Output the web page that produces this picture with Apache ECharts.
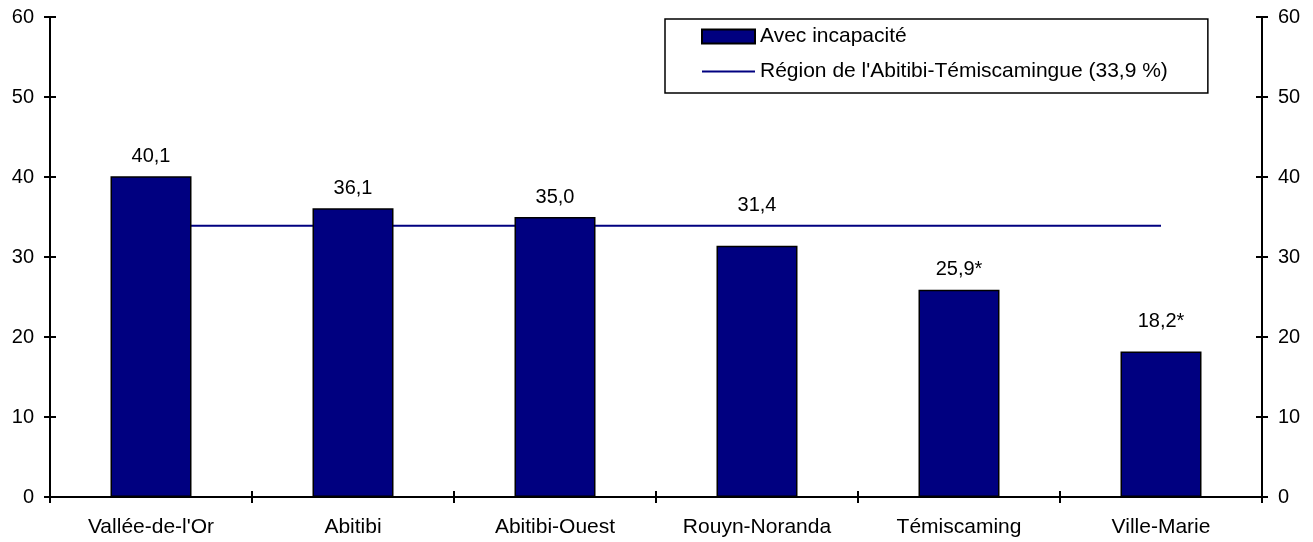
<!DOCTYPE html>
<html lang="fr">
<head>
    <meta charset="UTF-8">
    <title>Avec incapacité</title>
    <style>
        html, body { margin: 0; padding: 0; background: #fff; }
    </style>
</head>
<body>
<div id="main" style="width:1313px;height:542px;"></div>
<script src="https://cdn.jsdelivr.net/npm/echarts@6/dist/echarts.min.js"></script>
<script>
    var categories = ["Vallée-de-l'Or", "Abitibi", "Abitibi-Ouest", "Rouyn-Noranda", "Témiscaming", "Ville-Marie"];
    var values = [40.1, 36.1, 35.0, 31.4, 25.9, 18.2];
    var labels = ["40,1", "36,1", "35,0", "31,4", "25,9*", "18,2*"];
    var regionValue = 33.9;
    var regionLine = categories.map(function () { return regionValue; });
    var seriesNames = ["Avec incapacité", "Région de l'Abitibi-Témiscamingue (33,9 %)"];

    var font = 'Liberation Sans, Arial, sans-serif';
    var navy = '#000080';
    var gridBox = { left: 50, right: 51, top: 17, bottom: 45 };
    var clear = 'rgba(0,0,0,0)';

    // grid 0 carries the outside ticks + labels, grid 1 (same box) the inside ticks
    function yAx(pos, inside) {
        return {
            type: 'value',
            gridIndex: inside ? 1 : 0,
            position: pos,
            min: 0, max: 60, interval: 10,
            axisLine: { show: true, lineStyle: { color: '#000', width: 2 } },
            axisTick: { show: true, inside: inside, length: 6, lineStyle: { color: '#000', width: 2 } },
            axisLabel: { show: true, color: inside ? clear : '#000', fontSize: 20, fontFamily: font, margin: 16 },
            splitLine: { show: false }
        };
    }
    function xAx(inside) {
        return {
            type: 'category',
            gridIndex: inside ? 1 : 0,
            data: categories,
            position: 'bottom',
            axisLine: { show: true, lineStyle: { color: '#000', width: 2 } },
            axisTick: { show: true, inside: inside, length: 6, lineStyle: { color: '#000', width: 2 } },
            axisLabel: { show: true, color: inside ? clear : '#000', fontSize: 21, fontFamily: font, margin: 20 },
            splitLine: { show: false }
        };
    }

    // a few labels sit a bit higher in the original
    var labelDistance = { 3: 30, 5: 20 };
    var barData = values.map(function (v, i) {
        return labelDistance[i] ? { value: v, label: { distance: labelDistance[i] } } : v;
    });

    var myChart = echarts.init(document.getElementById('main'));
    var option = {
        backgroundColor: '#fff',
        animation: false,
        grid: [gridBox, gridBox],
        legend: {
            orient: 'vertical',
            left: 665,
            top: 19,
            padding: [7, 40, 11, 36],
            itemGap: 14,
            itemWidth: 53,
            itemHeight: 14,
            borderColor: '#000',
            borderWidth: 1.5,
            textStyle: { color: '#000', fontSize: 21, fontFamily: font },
            data: [
                { name: seriesNames[0], icon: 'rect' },
                { name: seriesNames[1], icon: 'path://M0,0L53,0L53,2L0,2Z' }
            ]
        },
        xAxis: [xAx(false), xAx(true)],
        yAxis: [yAx('left', false), yAx('right', false), yAx('left', true), yAx('right', true)],
        series: [{
            name: seriesNames[0],
            type: 'bar',
            data: barData,
            barWidth: 81,
            z: 3,
            itemStyle: { color: navy, borderColor: '#000', borderWidth: 1.5 },
            label: {
                show: true,
                position: 'top',
                distance: 10,
                color: '#000',
                fontSize: 20,
                fontFamily: font,
                formatter: function (p) { return labels[p.dataIndex]; }
            }
        }, {
            name: seriesNames[1],
            type: 'line',
            data: regionLine,
            symbol: 'none',
            z: 1,
            lineStyle: { color: navy, width: 2 },
            itemStyle: { color: navy }
        }]
    };
    myChart.setOption(option);
</script>
</body>
</html>
